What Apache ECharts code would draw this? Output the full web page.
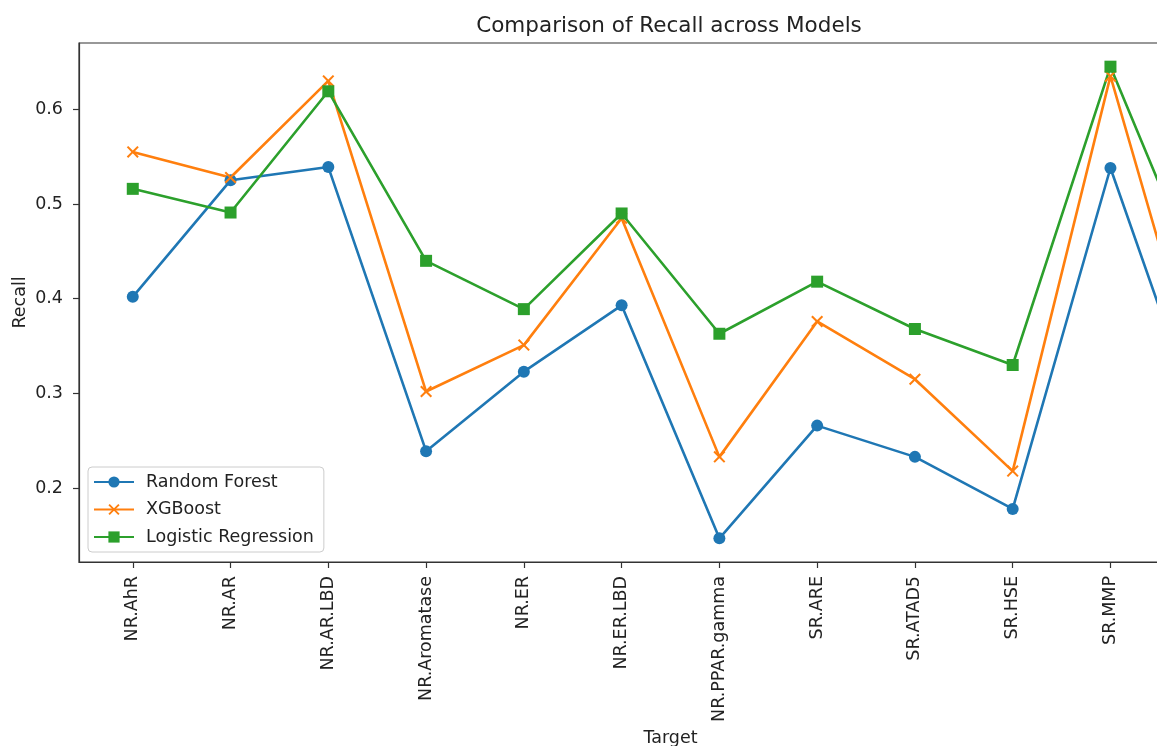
<!DOCTYPE html>
<html>
<head>
<meta charset="utf-8">
<script src="https://cdn.jsdelivr.net/npm/echarts@6/dist/echarts.min.js"></script>
<style>
html,body{margin:0;padding:0;background:#fff;overflow:hidden;width:1157px;height:746px;}
#c{width:1300px;height:746px;}
</style>
</head>
<body>
<div id="c"></div>
<script>
var categories = ['NR.AhR','NR.AR','NR.AR.LBD','NR.Aromatase','NR.ER','NR.ER.LBD','NR.PPAR.gamma','SR.ARE','SR.ATAD5','SR.HSE','SR.MMP','SR.p53'];
var randomForest = [0.402,0.525,0.539,0.239,0.323,0.393,0.147,0.266,0.233,0.178,0.538,0.243];
var xgboost = [0.555,0.528,0.630,0.302,0.351,0.485,0.233,0.376,0.315,0.218,0.635,0.278];
var logistic = [0.516,0.491,0.619,0.440,0.389,0.490,0.363,0.418,0.368,0.330,0.645,0.397];
var yTicks = [0.2,0.3,0.4,0.5,0.6];

var FONT = 'DejaVu Sans';
function pts(arr){ return arr.map(function(v,i){ return [i,v]; }); }
var idx = categories.map(function(_,i){ return i; });
var xPath = 'path://M0,1.2L1.2,0L5,3.8L8.8,0L10,1.2L6.2,5L10,8.8L8.8,10L5,6.2L1.2,10L0,8.8L3.8,5Z';

var chart = echarts.init(document.getElementById('c'), null, {renderer:'canvas'});
chart.setOption({
  animation:false,
  backgroundColor:'#fff',
  title:{
    text:'Comparison of Recall across Models',
    left:664, top:10, textAlign:'center',
    textStyle:{fontFamily:FONT,fontSize:21.5,fontWeight:'normal',color:'#222'}
  },
  grid:{left:79, top:43, right:38, bottom:184, containLabel:false, outerBoundsMode:'none',
    show:true, borderColor:'#333', borderWidth:1.2, backgroundColor:'transparent'},
  legend:{
    orient:'vertical', left:88, top:467,
    padding:[6,10,6,5],
    itemWidth:40, itemHeight:14, itemGap:9.5,
    borderColor:'#ccc', borderWidth:1, borderRadius:4,
    backgroundColor:'rgba(255,255,255,0.8)',
    textStyle:{fontFamily:FONT,fontSize:17.5,color:'#222',padding:[0,0,0,7]},
    data:['Random Forest','XGBoost','Logistic Regression']
  },
  xAxis:{
    type:'value', min:-0.55, max:11.55,
    name:'Target', nameLocation:'middle', nameGap:166,
    nameTextStyle:{fontFamily:FONT,fontSize:17.5,color:'#222'},
    axisLine:{show:true,onZero:false,lineStyle:{color:'#333',width:1.2}},
    axisTick:{show:true,length:6,lineStyle:{color:'#333',width:1.2},customValues:idx},
    axisLabel:{rotate:90,margin:14,fontFamily:FONT,fontSize:17.5,color:'#222',customValues:idx,
      formatter:function(v){ return categories[Math.round(v)]; }},
    splitLine:{show:false}
  },
  yAxis:{
    type:'value', min:0.122, max:0.670,
    name:'Recall', nameLocation:'middle', nameGap:50, nameRotate:90, nameMoveOverlap:false,
    nameTextStyle:{fontFamily:FONT,fontSize:17.5,color:'#222'},
    axisLine:{show:true,onZero:false,lineStyle:{color:'#333',width:1.2}},
    axisTick:{show:true,length:6,lineStyle:{color:'#333',width:1.2},customValues:yTicks},
    axisLabel:{margin:16,fontFamily:FONT,fontSize:17.5,color:'#222',customValues:yTicks,
      formatter:function(v){ return v.toFixed(1); }},
    splitLine:{show:false}
  },
  series:[
    {name:'Random Forest',type:'line',data:pts(randomForest),symbol:'circle',symbolSize:12,
      lineStyle:{color:'#1f77b4',width:2.6},itemStyle:{color:'#1f77b4'}},
    {name:'XGBoost',type:'line',data:pts(xgboost),symbol:xPath,symbolSize:12,
      lineStyle:{color:'#ff7f0e',width:2.6},itemStyle:{color:'#ff7f0e'}},
    {name:'Logistic Regression',type:'line',data:pts(logistic),symbol:'rect',symbolSize:12,
      lineStyle:{color:'#2ca02c',width:2.6},itemStyle:{color:'#2ca02c'}}
  ]
});
</script>
</body>
</html>
